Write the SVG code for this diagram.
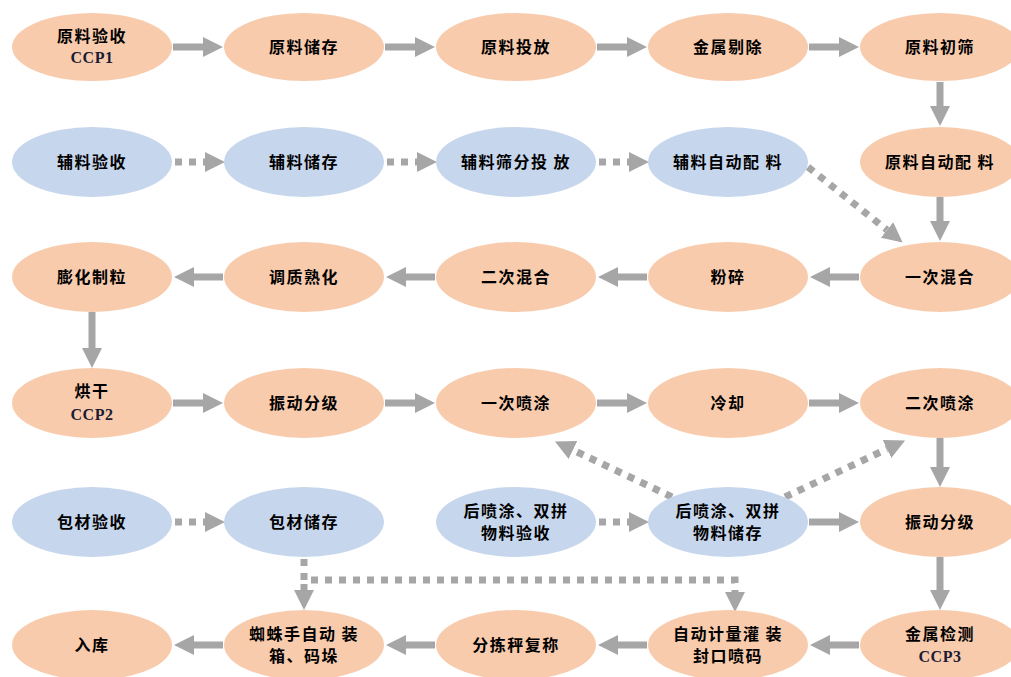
<svg xmlns="http://www.w3.org/2000/svg" width="1011" height="677" viewBox="0 0 1011 677">
<style>
.o{fill:#F8CBAD}
.b{fill:#C6D6EC}
text{font-family:"Noto Sans CJK SC","Liberation Sans",sans-serif;font-weight:bold;font-size:16px;fill:#000;text-anchor:middle;letter-spacing:1.5px}
text.c{font-family:"Liberation Serif",serif;font-size:16px;fill:#1b1b33;letter-spacing:0.5px}
.s{stroke:#A6A6A6;stroke-width:7;fill:none}
.d{stroke:#A6A6A6;stroke-width:7;fill:none;stroke-dasharray:7 7}
</style>
<defs>
<marker id="h" markerUnits="userSpaceOnUse" markerWidth="20" markerHeight="20" viewBox="0 0 20 20" refX="0" refY="10" orient="auto"><path d="M0,0 L20,10 L0,20 z" fill="#A6A6A6"/></marker>
</defs>
<rect width="1011" height="677" fill="#fff"/>
<g id="connectors">
<line class="s" x1="173" y1="47" x2="203" y2="47" marker-end="url(#h)"/>
<line class="s" x1="385" y1="47" x2="415" y2="47" marker-end="url(#h)"/>
<line class="s" x1="597" y1="47" x2="627" y2="47" marker-end="url(#h)"/>
<line class="s" x1="809" y1="47" x2="839" y2="47" marker-end="url(#h)"/>
<line class="s" x1="940" y1="82" x2="940" y2="106" marker-end="url(#h)"/>
<line class="d" x1="175" y1="162" x2="205" y2="162" marker-end="url(#h)"/>
<line class="d" x1="387" y1="162" x2="417" y2="162" marker-end="url(#h)"/>
<line class="d" x1="599" y1="162" x2="629" y2="162" marker-end="url(#h)"/>
<line class="s" x1="940" y1="197" x2="940" y2="221" marker-end="url(#h)"/>
<line class="d" x1="808" y1="167" x2="887" y2="230" marker-end="url(#h)"/>
<line class="s" x1="859" y1="277" x2="830" y2="277" marker-end="url(#h)"/>
<line class="s" x1="647" y1="277" x2="618" y2="277" marker-end="url(#h)"/>
<line class="s" x1="435" y1="277" x2="406" y2="277" marker-end="url(#h)"/>
<line class="s" x1="223" y1="277" x2="194" y2="277" marker-end="url(#h)"/>
<line class="s" x1="92" y1="312" x2="92" y2="348" marker-end="url(#h)"/>
<line class="s" x1="173" y1="403" x2="203" y2="403" marker-end="url(#h)"/>
<line class="s" x1="385" y1="403" x2="415" y2="403" marker-end="url(#h)"/>
<line class="s" x1="597" y1="403" x2="627" y2="403" marker-end="url(#h)"/>
<line class="s" x1="809" y1="403" x2="839" y2="403" marker-end="url(#h)"/>
<line class="s" x1="940" y1="438" x2="940" y2="467" marker-end="url(#h)"/>
<line class="d" x1="672" y1="497" x2="573" y2="450" marker-end="url(#h)"/>
<line class="d" x1="785" y1="497" x2="887" y2="449" marker-end="url(#h)"/>
<line class="d" x1="175" y1="522" x2="205" y2="522" marker-end="url(#h)"/>
<line class="d" x1="599" y1="522" x2="629" y2="522" marker-end="url(#h)"/>
<line class="s" x1="809" y1="522" x2="839" y2="522" marker-end="url(#h)"/>
<line class="s" x1="940" y1="557" x2="940" y2="590" marker-end="url(#h)"/>
<path class="d" d="M304,559 V580 H735 V592" marker-end="url(#h)"/>
<line class="s" x1="304" y1="584" x2="304" y2="590" marker-end="url(#h)"/>
<line class="s" x1="859" y1="645" x2="830" y2="645" marker-end="url(#h)"/>
<line class="s" x1="647" y1="645" x2="618" y2="645" marker-end="url(#h)"/>
<line class="s" x1="435" y1="645" x2="406" y2="645" marker-end="url(#h)"/>
<line class="s" x1="223" y1="645" x2="194" y2="645" marker-end="url(#h)"/>
</g>
<g id="n1"><ellipse class="o" cx="92" cy="47" rx="80" ry="34"/><text x="92" y="42">原料验收</text><text class="c" x="92" y="63">CCP1</text></g>
<g id="n2"><ellipse class="o" cx="304" cy="47" rx="80" ry="34"/><text x="304" y="53">原料储存</text></g>
<g id="n3"><ellipse class="o" cx="516" cy="47" rx="80" ry="34"/><text x="516" y="53">原料投放</text></g>
<g id="n4"><ellipse class="o" cx="728" cy="47" rx="80" ry="34"/><text x="728" y="53">金属剔除</text></g>
<g id="n5"><ellipse class="o" cx="940" cy="47" rx="80" ry="34"/><text x="940" y="53">原料初筛</text></g>
<g id="n6"><ellipse class="b" cx="92" cy="162" rx="80" ry="35"/><text x="92" y="168">辅料验收</text></g>
<g id="n7"><ellipse class="b" cx="304" cy="162" rx="80" ry="35"/><text x="304" y="168">辅料储存</text></g>
<g id="n8"><ellipse class="b" cx="516" cy="162" rx="80" ry="35"/><text x="516" y="168">辅料筛分投 放</text></g>
<g id="n9"><ellipse class="b" cx="728" cy="162" rx="80" ry="35"/><text x="728" y="168">辅料自动配 料</text></g>
<g id="n10"><ellipse class="o" cx="940" cy="162" rx="80" ry="35"/><text x="940" y="168">原料自动配 料</text></g>
<g id="n11"><ellipse class="o" cx="92" cy="277" rx="80" ry="35"/><text x="92" y="283">膨化制粒</text></g>
<g id="n12"><ellipse class="o" cx="304" cy="277" rx="80" ry="35"/><text x="304" y="283">调质熟化</text></g>
<g id="n13"><ellipse class="o" cx="516" cy="277" rx="80" ry="35"/><text x="516" y="283">二次混合</text></g>
<g id="n14"><ellipse class="o" cx="728" cy="277" rx="80" ry="35"/><text x="728" y="283">粉碎</text></g>
<g id="n15"><ellipse class="o" cx="940" cy="277" rx="80" ry="35"/><text x="940" y="283">一次混合</text></g>
<g id="n16"><ellipse class="o" cx="92" cy="403" rx="80" ry="35"/><text x="92" y="397">烘干</text><text class="c" x="92" y="420">CCP2</text></g>
<g id="n17"><ellipse class="o" cx="304" cy="403" rx="80" ry="35"/><text x="304" y="409">振动分级</text></g>
<g id="n18"><ellipse class="o" cx="516" cy="403" rx="80" ry="35"/><text x="516" y="409">一次喷涂</text></g>
<g id="n19"><ellipse class="o" cx="728" cy="403" rx="80" ry="35"/><text x="728" y="409">冷却</text></g>
<g id="n20"><ellipse class="o" cx="940" cy="403" rx="80" ry="35"/><text x="940" y="409">二次喷涂</text></g>
<g id="n21"><ellipse class="b" cx="92" cy="522" rx="80" ry="35"/><text x="92" y="528">包材验收</text></g>
<g id="n22"><ellipse class="b" cx="304" cy="522" rx="80" ry="35"/><text x="304" y="528">包材储存</text></g>
<g id="n23"><ellipse class="b" cx="516" cy="522" rx="80" ry="35"/><text x="516" y="517">后喷涂、双拼</text><text x="516" y="539">物料验收</text></g>
<g id="n24"><ellipse class="b" cx="728" cy="522" rx="80" ry="35"/><text x="728" y="517">后喷涂、双拼</text><text x="728" y="539">物料储存</text></g>
<g id="n25"><ellipse class="o" cx="940" cy="522" rx="80" ry="35"/><text x="940" y="528">振动分级</text></g>
<g id="n26"><ellipse class="o" cx="92" cy="645" rx="80" ry="35"/><text x="92" y="651">入库</text></g>
<g id="n27"><ellipse class="o" cx="304" cy="645" rx="80" ry="35"/><text x="304" y="640">蜘蛛手自动 装</text><text x="304" y="662">箱、码垛</text></g>
<g id="n28"><ellipse class="o" cx="516" cy="645" rx="80" ry="35"/><text x="516" y="651">分拣秤复称</text></g>
<g id="n29"><ellipse class="o" cx="728" cy="645" rx="80" ry="35"/><text x="728" y="640">自动计量灌 装</text><text x="728" y="662">封口喷码</text></g>
<g id="n30"><ellipse class="o" cx="940" cy="645" rx="80" ry="35"/><text x="940" y="640">金属检测</text><text class="c" x="940" y="662">CCP3</text></g>
</svg>
